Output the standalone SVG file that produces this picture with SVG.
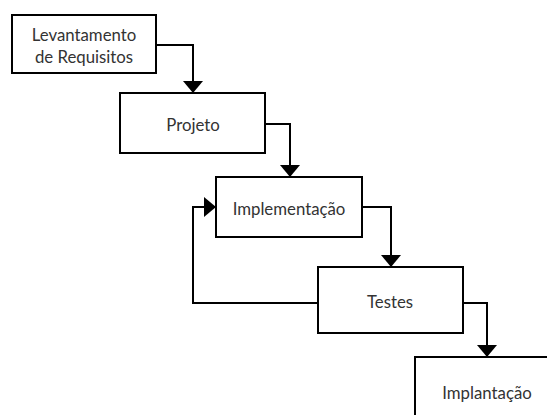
<svg xmlns="http://www.w3.org/2000/svg" width="547" height="415" viewBox="0 0 547 415">
<style>
.box{fill:#fff;stroke:#000;stroke-width:2}
.lbl{font-family:Lato,"Open Sans",sans-serif;font-size:16.8px;fill:#333;text-anchor:middle;dominant-baseline:central}
.con{fill:none;stroke:#000;stroke-width:2}
</style>
<defs>
<marker id="ah" markerWidth="20" markerHeight="20" refX="12" refY="10" orient="auto" markerUnits="userSpaceOnUse">
<path d="M0,0 L12,10 L0,20 Z" fill="#000"/>
</marker>
</defs>
<rect width="547" height="415" fill="#fff"/>
<g id="connectors">
<path class="con" d="M156,45 H193 V93" marker-end="url(#ah)"/>
<path class="con" d="M265,124 H290 V177" marker-end="url(#ah)"/>
<path class="con" d="M362,207 H391 V267" marker-end="url(#ah)"/>
<path class="con" d="M463,303 H487 V357" marker-end="url(#ah)"/>
<path class="con" d="M318,303 H193 V207 H216" marker-end="url(#ah)"/>
</g>
<g id="n1"><rect class="box" x="12" y="15" width="144" height="58"/><text class="lbl" x="84" y="34">Levantamento</text><text class="lbl" x="84" y="56">de Requisitos</text></g>
<g id="n2"><rect class="box" x="120" y="93" width="145" height="60"/><text class="lbl" x="193" y="124">Projeto</text></g>
<g id="n3"><rect class="box" x="216" y="177" width="146" height="60"/><text class="lbl" x="289" y="208">Implementação</text></g>
<g id="n4"><rect class="box" x="318" y="267" width="145" height="66"/><text class="lbl" x="390" y="301">Testes</text></g>
<g id="n5"><rect class="box" x="415" y="357" width="145" height="66"/><text class="lbl" x="487" y="392">Implantação</text></g>
</svg>
